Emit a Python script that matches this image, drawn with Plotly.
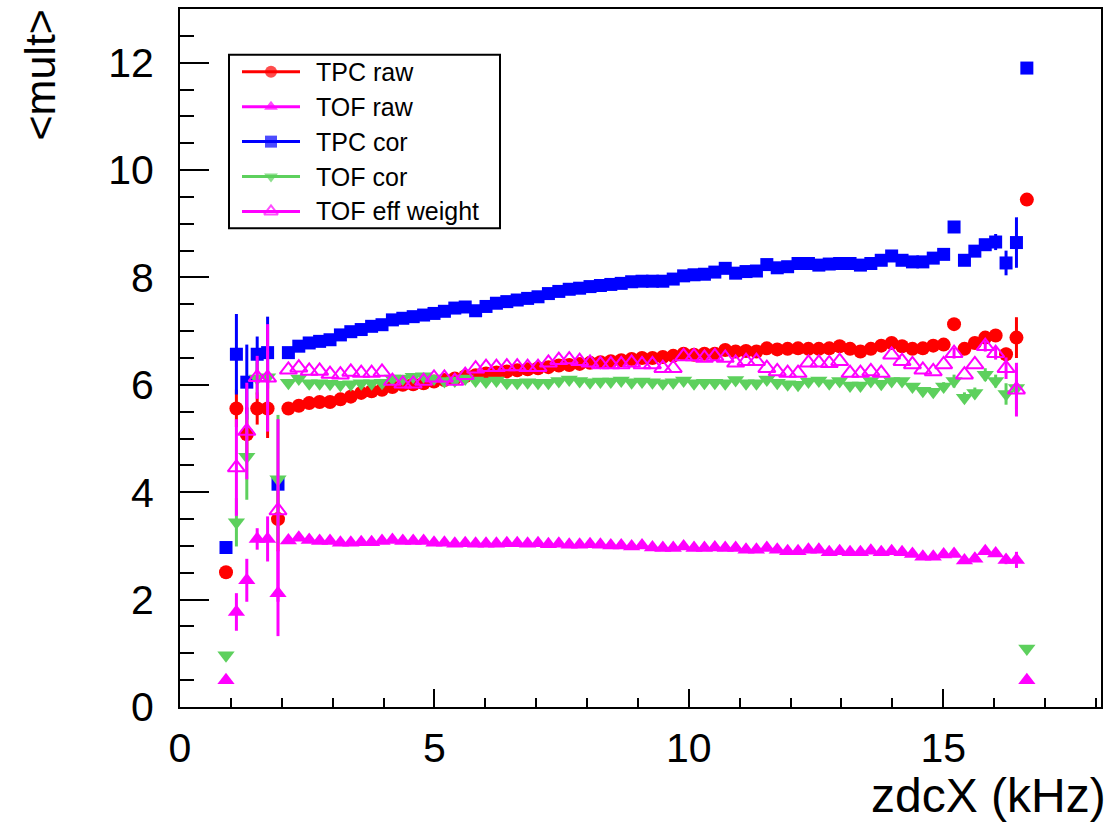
import plotly.graph_objects as go

# ---------------- data ----------------
n_bins = 78
zdcx = [round(0.904 + 0.2044 * i, 4) for i in range(n_bins)]  # bin centres (kHz)

tpc_raw = [2.51, 5.56, 5.08, 5.56, 5.56, 3.50, 5.56, 5.61, 5.66, 5.68,
           5.68, 5.73, 5.78, 5.85, 5.88, 5.91, 5.96, 6.00, 6.01, 6.03,
           6.06, 6.09, 6.12, 6.16, 6.18, 6.21, 6.23, 6.25, 6.27, 6.29,
           6.31, 6.33, 6.36, 6.37, 6.39, 6.41, 6.42, 6.44, 6.46, 6.48,
           6.50, 6.50, 6.52, 6.54, 6.58, 6.56, 6.58, 6.58, 6.65, 6.62,
           6.63, 6.62, 6.68, 6.66, 6.67, 6.68, 6.67, 6.67, 6.68, 6.72,
           6.67, 6.62, 6.67, 6.73, 6.78, 6.72, 6.67, 6.68, 6.73, 6.75,
           7.13, 6.67, 6.78, 6.88, 6.92, 6.57, 6.88, 9.45]

tof_raw = [0.50, 1.77, 2.36, 3.13, 3.13, 2.12, 3.10, 3.15, 3.11, 3.09,
           3.09, 3.06, 3.06, 3.07, 3.07, 3.09, 3.11, 3.09, 3.09, 3.09,
           3.06, 3.06, 3.04, 3.05, 3.04, 3.04, 3.04, 3.05, 3.05, 3.04,
           3.05, 3.03, 3.04, 3.02, 3.02, 3.03, 3.02, 3.01, 3.01, 2.99,
           3.01, 2.97, 2.96, 2.96, 2.99, 2.96, 2.96, 2.97, 2.96, 2.96,
           2.93, 2.93, 2.96, 2.93, 2.90, 2.90, 2.93, 2.93, 2.88, 2.90,
           2.88, 2.88, 2.91, 2.88, 2.90, 2.88, 2.85, 2.80, 2.80, 2.84,
           2.85, 2.73, 2.76, 2.90, 2.86, 2.74, 2.74, 0.50]

tpc_cor = [2.97, 6.57, 6.05, 6.57, 6.60, 4.15, 6.60, 6.72, 6.78, 6.81,
           6.84, 6.93, 6.99, 7.03, 7.09, 7.12, 7.21, 7.24, 7.27, 7.30,
           7.33, 7.37, 7.43, 7.45, 7.38, 7.46, 7.52, 7.55, 7.58, 7.61,
           7.64, 7.70, 7.74, 7.78, 7.80, 7.83, 7.85, 7.87, 7.89, 7.92,
           7.93, 7.93, 7.93, 7.97, 8.03, 8.05, 8.06, 8.10, 8.17, 8.08,
           8.11, 8.12, 8.24, 8.18, 8.20, 8.26, 8.26, 8.23, 8.25, 8.26,
           8.26, 8.23, 8.26, 8.32, 8.40, 8.32, 8.29, 8.29, 8.36, 8.43,
           8.94, 8.32, 8.49, 8.61, 8.66, 8.27, 8.65, 11.90]

tof_cor = [0.965, 3.44, 4.66, 6.12, 6.14, 4.24, 6.04, 6.12, 6.03, 6.03,
           6.02, 6.00, 6.01, 6.03, 6.03, 6.04, 6.12, 6.12, 6.15, 6.16,
           6.12, 6.07, 6.08, 6.12, 6.08, 6.06, 6.08, 6.04, 6.04, 6.05,
           6.04, 6.04, 6.07, 6.10, 6.07, 6.05, 6.06, 6.06, 6.08, 6.05,
           6.06, 6.05, 6.03, 6.05, 6.08, 6.03, 6.04, 6.04, 6.03, 6.09,
           6.03, 6.03, 6.10, 6.04, 6.01, 6.00, 6.06, 6.08, 6.03, 6.07,
           5.99, 5.99, 6.07, 6.02, 6.07, 6.07, 5.97, 5.89, 5.87, 5.97,
           6.07, 5.76, 5.85, 6.19, 6.07, 5.83, 5.94, 1.09]

tof_eff = [None, 4.46, 5.14, 6.14, 6.13, 3.66, 6.28, 6.32, 6.26, 6.26,
           6.20, 6.19, 6.24, 6.22, 6.22, 6.24, 6.07, 6.02, 6.02, 6.07,
           6.13, 6.13, 6.07, 6.18, 6.30, 6.33, 6.33, 6.34, 6.34, 6.33,
           6.33, 6.41, 6.46, 6.47, 6.44, 6.41, 6.38, 6.38, 6.38, 6.41,
           6.38, 6.38, 6.31, 6.31, 6.53, 6.53, 6.50, 6.53, 6.50, 6.41,
           6.44, 6.44, 6.31, 6.25, 6.22, 6.22, 6.41, 6.41, 6.40, 6.44,
           6.22, 6.22, 6.25, 6.22, 6.56, 6.44, 6.38, 6.28, 6.25, 6.38,
           6.59, 6.19, 6.38, 6.72, 6.59, 6.31, 5.91, None]

# visible error bars (bin index -> error); all others hidden under the markers
tpc_raw_err = {1: 0.35, 2: 0.50, 3: 0.30, 4: 0.55, 5: 0.60, 70: 0.05, 73: 0.08,
               74: 0.10, 75: 0.12, 76: 0.38}
tof_raw_err = {1: 0.35, 2: 0.40, 3: 0.20, 4: 0.42, 5: 0.80, 74: 0.05, 75: 0.08,
               76: 0.15}
tpc_cor_err = {1: 0.75, 2: 0.70, 3: 0.33, 4: 0.67, 5: 0.10, 70: 0.08, 71: 0.05,
               72: 0.06, 73: 0.10, 74: 0.15, 75: 0.23, 76: 0.47}
tof_cor_err = {1: 0.45, 2: 0.80, 3: 0.30, 4: 0.50, 5: 1.20, 69: 0.08, 70: 0.12,
               71: 0.10, 72: 0.10, 73: 0.12, 74: 0.12, 75: 0.20, 76: 0.40}
tof_eff_err = {1: 0.90, 2: 0.90, 3: 0.40, 4: 1.00, 5: 1.70, 70: 0.10, 73: 0.10,
               74: 0.12, 75: 0.20, 76: 0.50}

series_names = ["TPC raw", "TOF raw", "TPC cor", "TOF cor", "TOF eff weight"]

# ---------------- styling ----------------
FONT = "Liberation Sans, Arial, Helvetica, sans-serif"
RED, MAG, BLUE, GREEN = "#ff0000", "#ff00ff", "#0000ff", "#5dd05d"

W, H = 1114, 822
ML, MR, MT, MB = 180, 13, 7, 115
PW, PH = W - ML - MR, H - MT - MB


def px_x(p):
    return (p - ML) / PW


def px_y(p):
    return (H - MB - p) / PH


def errs(d):
    return [d.get(i, 0.0) for i in range(n_bins)]


styles = [
    (tpc_raw, tpc_raw_err, RED, "circle", 14, None),
    (tof_raw, tof_raw_err, MAG, "triangle-up", 15, None),
    (tpc_cor, tpc_cor_err, BLUE, "square", 13, None),
    (tof_cor, tof_cor_err, GREEN, "triangle-down", 15, None),
    (tof_eff, tof_eff_err, MAG, "triangle-up-open", 15, 2),
]

fig = go.Figure()
for name, (vals, err, col, sym, size, lw) in zip(series_names, styles):
    marker = dict(color=col, symbol=sym, size=size)
    marker["line"] = dict(color=col, width=lw if lw else 0)
    fig.add_trace(go.Scatter(
        x=zdcx, y=vals, mode="markers", name=name, marker=marker,
        error_y=dict(type="data", array=errs(err), visible=True,
                     color=col, thickness=3, width=0),
        showlegend=False, cliponaxis=False,
    ))

# ---------------- ROOT-style legend ----------------
LEG_X0, LEG_X1, LEG_Y0, LEG_Y1 = 229, 500, 53, 227
row0, row_step = 70, 35
line_x0, line_x1, text_x = 242, 300, 314
shapes = [dict(type="rect", xref="paper", yref="paper",
               x0=px_x(LEG_X0), x1=px_x(LEG_X1), y0=px_y(LEG_Y1), y1=px_y(LEG_Y0),
               line=dict(color="black", width=2), fillcolor="white", layer="below")]
annotations = []
for i, (name, (vals, err, col, sym, size, lw)) in enumerate(zip(series_names, styles)):
    ry = row0 + row_step * i
    mk = dict(color=col, symbol=sym, size=[0, 12, 0])
    mk["line"] = dict(color=col, width=lw if lw else 0)
    fig.add_trace(go.Scatter(
        x=[line_x0, (line_x0 + line_x1) / 2, line_x1], y=[ry, ry, ry],
        mode="lines+markers", line=dict(color=col, width=3), marker=mk,
        xaxis="x3", yaxis="y3", showlegend=False, hoverinfo="skip"))
    annotations.append(dict(x=px_x(text_x), y=px_y(ry), xref="paper", yref="paper",
                            text=name, showarrow=False, xanchor="left",
                            yanchor="middle", font=dict(family=FONT, size=25, color="black")))

# axis titles
annotations.append(dict(x=px_x(1108), y=px_y(796), xref="paper", yref="paper",
                        text="zdcX (kHz)", showarrow=False, xanchor="right",
                        yanchor="middle", font=dict(family=FONT, size=48, color="black")))
annotations.append(dict(x=px_x(40), y=px_y(6), xref="paper", yref="paper",
                        text="&lt;mult&gt;", textangle=-90, showarrow=False,
                        xanchor="center", yanchor="top",
                        font=dict(family=FONT, size=43, color="black")))

axis_common = dict(showgrid=False, zeroline=False, showline=True, linecolor="black",
                   linewidth=2, mirror=True, ticks="inside", tickcolor="black",
                   tickwidth=2, tickfont=dict(family=FONT, size=41, color="black"))

fig.update_layout(
    width=W, height=H,
    margin=dict(l=ML, r=MR, t=MT, b=MB),
    paper_bgcolor="white", plot_bgcolor="white",
    showlegend=False,
    xaxis=dict(range=[0, 18.1], tickmode="linear", tick0=0, dtick=5,
               ticklen=18, ticklabelstandoff=4,
               minor=dict(dtick=1, tick0=0, ticks="inside", ticklen=9, tickwidth=2,
                          tickcolor="black", showgrid=False),
               **axis_common),
    yaxis=dict(range=[0, 13], tickmode="linear", tick0=0, dtick=2,
               ticklen=29, ticklabelstandoff=16,
               minor=dict(dtick=0.5, tick0=0, ticks="inside", ticklen=14, tickwidth=2,
                          tickcolor="black", showgrid=False),
               **axis_common),
    yaxis2=dict(overlaying="y", side="right", anchor="x", range=[0, 13],
                tickmode="linear", tick0=0, dtick=2, ticks="inside", ticklen=15,
                tickwidth=2, tickcolor="black", showticklabels=False, showline=False,
                showgrid=False, zeroline=False,
                minor=dict(dtick=0.5, tick0=0, ticks="inside", ticklen=5, tickwidth=2,
                           tickcolor="black", showgrid=False)),
    xaxis3=dict(overlaying="x", anchor="y3", range=[ML, W - MR], visible=False,
                fixedrange=True),
    yaxis3=dict(overlaying="y", anchor="x3", range=[H - MB, MT], visible=False,
                fixedrange=True),
    shapes=shapes,
    annotations=annotations,
)

fig.write_html("out.html")
